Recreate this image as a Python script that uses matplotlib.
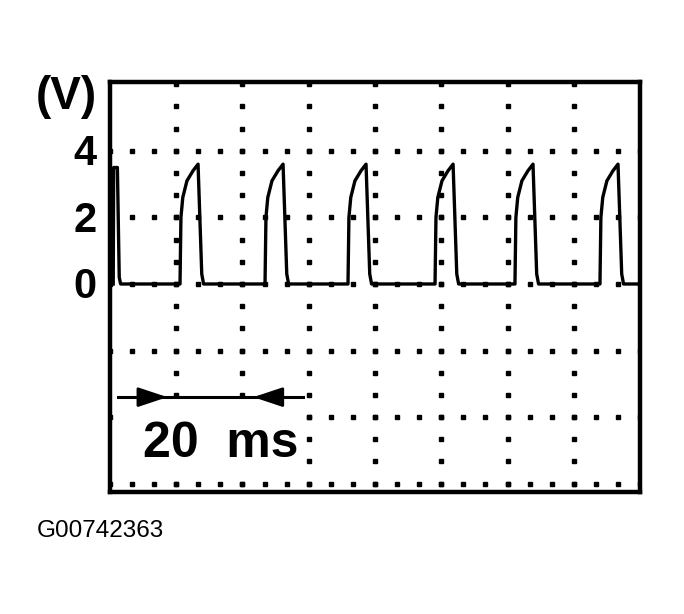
import matplotlib.pyplot as plt
import numpy as np
from matplotlib.patches import Rectangle

# time axis in ms, voltage in V
x_max = 57.3
y_min, y_max = -6.25, 6.07
n_xdiv = 8
y_grid = [-6, -4, -2, 0, 2, 4]
y_labels = [4, 2, 0]

# start of each pulse rise (ms)
pulse_starts = [7.57, 16.76, 25.73, 35.14, 43.78, 52.97]
# shape of one pulse relative to its start
shape_t = [0, 0.1, 0.3, 0.75, 1.4, 1.95, 2.35, 2.55]
shape_v = [0, 2.0, 2.6, 3.1, 3.4, 3.6, 0.3, 0]
# partial pulse at the left edge
first_t = [0.35, 0.4, 0.8, 1.0, 1.15]
first_v = [0, 3.5, 3.5, 0.2, 0]

scale_ms = 20
arrow_from, arrow_to, arrow_v = 0.86, 20.86, -3.4

# build the trace
t = list(first_t)
v = list(first_v)
for s in pulse_starts:
    t += [s + dt for dt in shape_t]
    v += shape_v
t.append(x_max)
v.append(0)

fig = plt.figure(figsize=(6.84, 6.14), dpi=100)
ax = fig.add_axes([0.1608, 0.1987, 0.7749, 0.6678])
ax.set_xlim(0, x_max)
ax.set_ylim(y_min, y_max)

# dotted grid, dots every third of a division
xdiv = x_max / n_xdiv
x_grid = [k * xdiv for k in range(1, n_xdiv)]
dot_y = np.arange(-6, 6.01, 2 / 3)
dot_x = np.arange(0, x_max + 0.01, xdiv / 3)
for gx in x_grid:
    ax.plot([gx] * len(dot_y), dot_y, 's', ms=2.6, color='black', zorder=1)
for gy in y_grid:
    ax.plot(dot_x, [gy] * len(dot_x), 's', ms=2.6, color='black', zorder=1)

ax.plot(t, v, color='black', lw=2.4, solid_joinstyle='round', zorder=3)

# 20 ms marker (blank area behind the label)
ax.add_patch(Rectangle((1.3, -5.8), 19.6, 2.1, facecolor='white',
                       edgecolor='none', zorder=2))
ax.plot([arrow_from, arrow_to], [arrow_v, arrow_v], color='black', lw=2.2, zorder=3)
ax.annotate('', xy=(6.2, arrow_v), xytext=(3.4, arrow_v),
            arrowprops=dict(arrowstyle='-|>,head_length=1.8,head_width=0.6',
                            lw=2, color='black', shrinkA=0, shrinkB=0))
ax.annotate('', xy=(15.5, arrow_v), xytext=(18.7, arrow_v),
            arrowprops=dict(arrowstyle='-|>,head_length=1.8,head_width=0.6',
                            lw=2, color='black', shrinkA=0, shrinkB=0))
ax.text(3.56, -5.2, f'{scale_ms}  ms', fontsize=36, fontweight='bold',
        family='Liberation Sans', ha='left', va='baseline', zorder=4)

ax.set_xticks([])
ax.set_yticks([])
for sp in ax.spines.values():
    sp.set_linewidth(3.2)

for lab in y_labels:
    ax.text(-0.026, lab - 0.1, str(lab), transform=ax.get_yaxis_transform(),
            fontsize=30, fontweight='bold', family='Liberation Sans',
            ha='right', va='center')
fig.text(0.0965, 0.842, '(V)', fontsize=33, fontweight='bold',
         family='Liberation Sans', ha='center', va='center')
fig.text(0.054, 0.1254, 'G00742363', fontsize=17.5,
         family='Liberation Sans', ha='left', va='baseline')

fig.savefig('out.png', dpi=100)
